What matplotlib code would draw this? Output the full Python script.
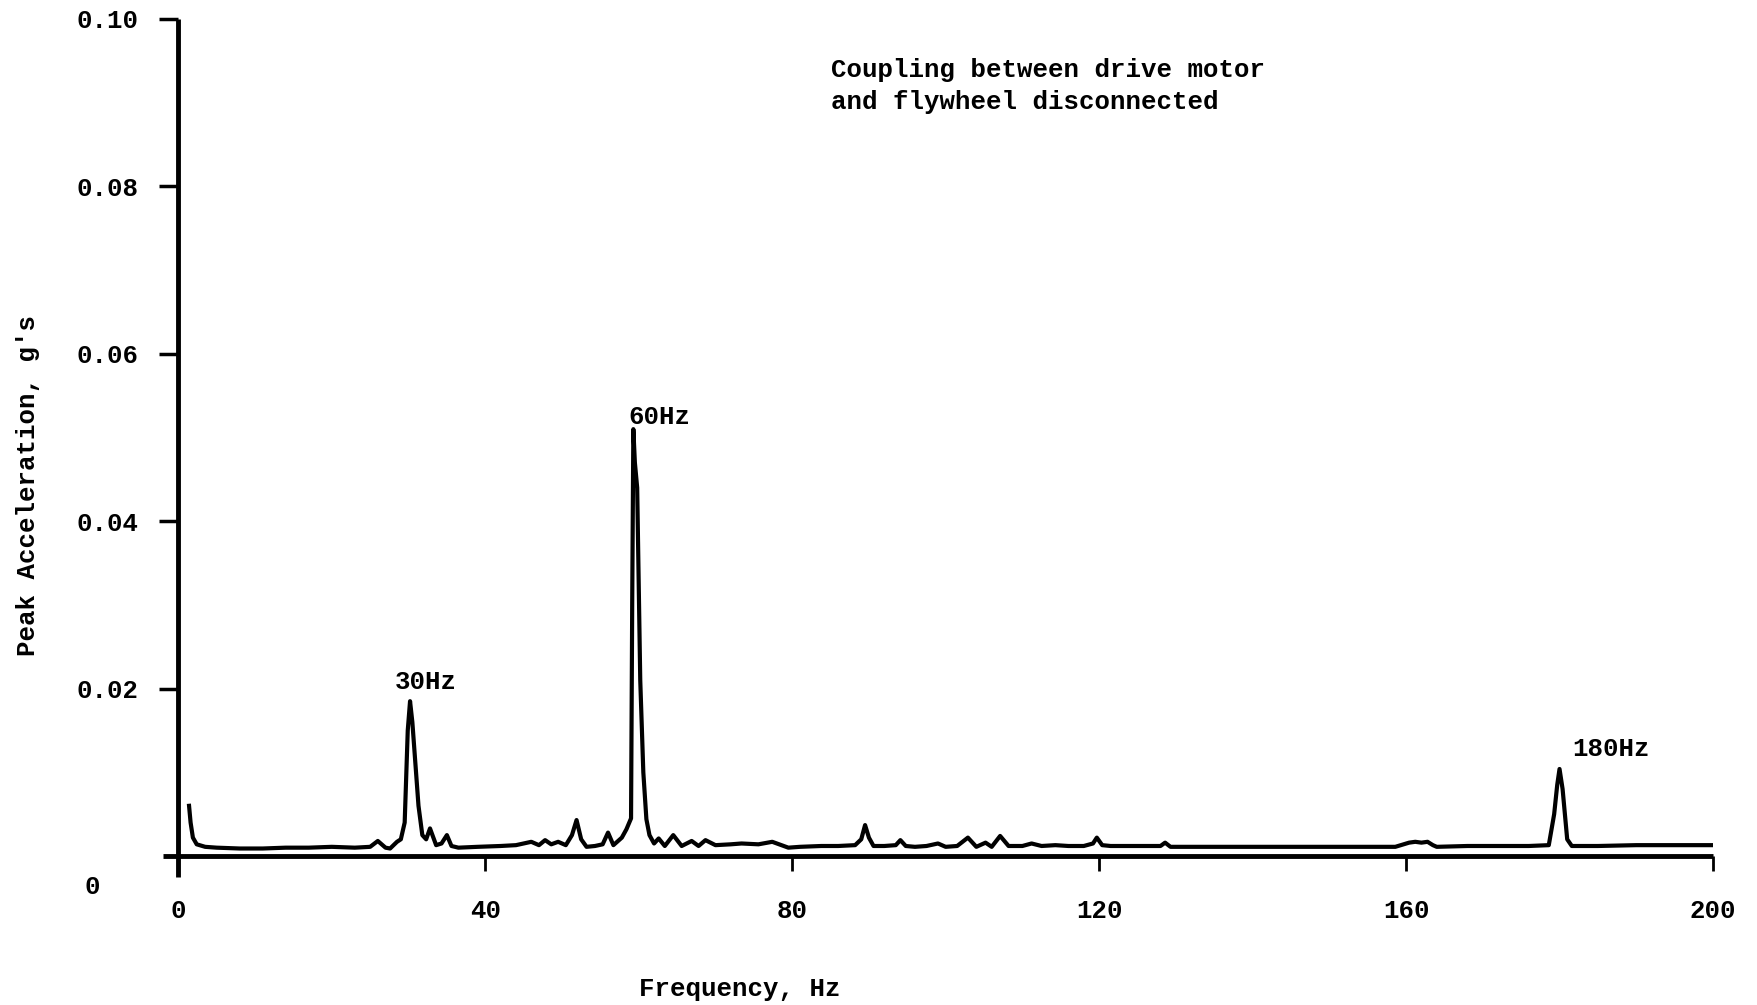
"""Vibration spectrum: drive motor / flywheel coupling disconnected."""

import matplotlib

matplotlib.use("Agg")
import matplotlib.pyplot as plt

plt.rcParams["font.family"] = ["Liberation Mono", "DejaVu Sans Mono"]
plt.rcParams["font.weight"] = "bold"

# spectrum (Hz, peak acceleration in g's)
freq_hz = [
    1.4, 1.6, 1.9, 2.4, 3.5, 5, 8, 11, 14, 17, 20, 23, 25, 26, 27, 27.6,
    28.5, 29.0, 29.5, 29.9, 30.2, 30.5, 30.9, 31.3, 31.8, 32.3, 32.8, 33.6,
    34.3, 35.0, 35.6, 36.5, 39, 42, 44, 46, 47, 47.8, 48.6, 49.5, 50.5, 51.3,
    51.9, 52.5, 53.2, 54.3, 55.3, 56.0, 56.7, 57.8, 58.4, 59.0, 59.15, 59.3,
    59.5, 59.8, 60.2, 60.6, 61.0, 61.4, 62.0, 62.6, 63.4, 64.5, 65.6, 66.9,
    67.8, 68.7, 70, 72, 73.4, 75.6, 77.4, 79.5, 81, 83.8, 86, 88.2, 89.0,
    89.5, 90.0, 90.6, 92, 93.5, 94.1, 94.8, 96, 97.5, 99, 100, 101.5, 102.9,
    104, 105.2, 106, 107.1, 108.2, 110, 111.2, 112.5, 114.3, 116, 118, 119.2,
    119.7, 120.4, 121.5, 125, 128, 128.6, 129.3, 132, 136, 140, 145, 150,
    155, 158.6, 160.4, 161.2, 162, 162.8, 163.5, 164, 168, 172, 176, 178.6,
    179.3, 179.7, 180.0, 180.4, 181, 181.6, 185, 190, 195, 199.8,
]
accel_g = [
    0.0060, 0.0040, 0.0022, 0.0014, 0.0011, 0.0010, 0.0009, 0.0009, 0.0010,
    0.0010, 0.0011, 0.0010, 0.0011, 0.0018, 0.0010, 0.0009, 0.0017, 0.0020,
    0.0040, 0.0150, 0.0185, 0.0160, 0.0110, 0.0060, 0.0025, 0.0020, 0.0033,
    0.0013, 0.0015, 0.0025, 0.0012, 0.0010, 0.0011, 0.0012, 0.0013, 0.0017,
    0.0013, 0.0019, 0.0014, 0.0017, 0.0013, 0.0025, 0.0043, 0.0020, 0.0011,
    0.0012, 0.0014, 0.0028, 0.0013, 0.0022, 0.0032, 0.0045, 0.0300, 0.0510,
    0.0470, 0.0440, 0.0210, 0.0100, 0.0044, 0.0025, 0.0015, 0.0021, 0.0012,
    0.0025, 0.0012, 0.0018, 0.0012, 0.0019, 0.0013, 0.0014, 0.0015, 0.0014,
    0.0017, 0.0010, 0.0011, 0.0012, 0.0012, 0.0013, 0.0020, 0.0037, 0.0022,
    0.0012, 0.0012, 0.0013, 0.0019, 0.0012, 0.0011, 0.0012, 0.0015, 0.0011,
    0.0012, 0.0022, 0.0011, 0.0016, 0.0011, 0.0024, 0.0012, 0.0012, 0.0015,
    0.0012, 0.0013, 0.0012, 0.0012, 0.0015, 0.0022, 0.0013, 0.0012, 0.0012,
    0.0012, 0.0016, 0.0011, 0.0011, 0.0011, 0.0011, 0.0011, 0.0011, 0.0011,
    0.0011, 0.0016, 0.0017, 0.0016, 0.0017, 0.0013, 0.0011, 0.0012, 0.0012,
    0.0012, 0.0013, 0.0050, 0.0085, 0.0104, 0.0080, 0.0020, 0.0012, 0.0012,
    0.0013, 0.0013, 0.0013,
]

x_ticks = [0, 40, 80, 120, 160, 200]
y_ticks = [0.02, 0.04, 0.06, 0.08, 0.10]
y_tick_labels = ["0.02", "0.04", "0.06", "0.08", "0.10"]

peak_labels = ["30Hz", "60Hz", "180Hz"]
peak_label_pos = [(32.2, 0.0208), (62.7, 0.0524), (186.7, 0.0128)]
note_text = "Coupling between drive motor\nand flywheel disconnected"

FONT_SIZE = 18.5


def main() -> None:
    fig = plt.figure(figsize=(17.58, 10.05), dpi=100)
    ax = fig.add_axes([0.0927, 0.1274, 0.8817, 0.8537])

    ax.plot(freq_hz, accel_g, color="black", linewidth=3.0, solid_joinstyle="round")

    ax.set_xlim(-2, 200)
    ax.set_ylim(-0.0025, 0.10)

    for side in ["top", "right"]:
        ax.spines[side].set_visible(False)
    for side in ["left", "bottom"]:
        ax.spines[side].set_position(("data", 0))
        ax.spines[side].set_linewidth(3.5)
        ax.spines[side].set_capstyle("butt")

    ax.set_xticks(x_ticks)
    ax.set_xticklabels([str(t) for t in x_ticks])
    ax.set_yticks(y_ticks)
    ax.set_yticklabels(y_tick_labels)
    ax.tick_params(axis="x", direction="out", length=11, width=2.0, pad=20,
                   labelsize=FONT_SIZE)
    ax.tick_params(axis="y", direction="out", length=14, width=2.5, pad=15,
                   labelsize=FONT_SIZE)

    # the zero of the y scale sits below the x axis, no tick mark
    ax.annotate("0", xy=(0, 0), xycoords="data", xytext=(-62, -22),
                textcoords="offset points", ha="center", va="center",
                fontsize=FONT_SIZE)

    for label, (x, y) in zip(peak_labels, peak_label_pos):
        ax.text(x, y, label, ha="center", va="center", fontsize=FONT_SIZE)

    ax.text(85, 0.0953, note_text, ha="left", va="top", fontsize=FONT_SIZE,
            linespacing=1.4)

    fig.text(28 / 1758, 1 - 485 / 1005, "Peak Acceleration, g's", rotation=90,
             ha="center", va="center", fontsize=FONT_SIZE)
    fig.text(740 / 1758, 1 - 989 / 1005, "Frequency, Hz", ha="center",
             va="center", fontsize=FONT_SIZE)

    fig.savefig("out.png", dpi=100, facecolor="white")
    plt.close(fig)


if __name__ == "__main__":
    main()
